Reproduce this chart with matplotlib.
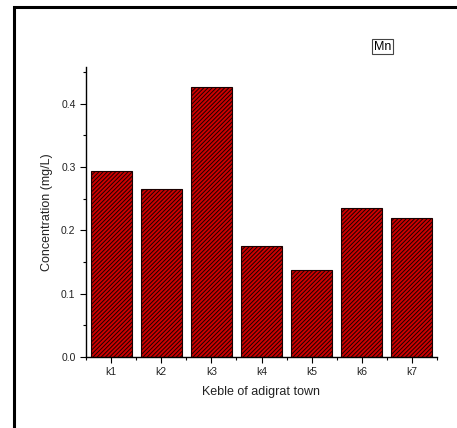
import matplotlib.pyplot as plt
from matplotlib.patches import Rectangle
from matplotlib.ticker import MultipleLocator, FixedLocator

plt.rcParams['font.family'] = ['Liberation Sans', 'DejaVu Sans']
plt.rcParams['hatch.linewidth'] = 0.7

kebeles = ['k1', 'k2', 'k3', 'k4', 'k5', 'k6', 'k7']
mn_conc = [0.294, 0.265, 0.426, 0.176, 0.138, 0.235, 0.220]

fig = plt.figure(figsize=(4.57, 4.28), dpi=100)
W, H = 457, 428
ax = fig.add_axes([86 / W, 1 - 357 / H, (437 - 86) / W, (357 - 67) / H])

pos = list(range(1, len(kebeles) + 1))
ax.bar(pos, mn_conc, width=0.82, color='#cc0000', edgecolor='#1a0000',
       linewidth=0.8, hatch='////////')

ax.set_xlim(0.5, 7.5)
ax.set_ylim(0, 0.458)
ax.set_xticks(pos)
ax.set_xticklabels(kebeles)
ax.xaxis.set_minor_locator(FixedLocator([p + 0.5 for p in range(0, 8)]))
ax.yaxis.set_major_locator(MultipleLocator(0.1))
ax.yaxis.set_minor_locator(MultipleLocator(0.05))
ax.yaxis.set_major_formatter(plt.FuncFormatter(lambda v, p: f'{v:.1f}'))

for s in ['top', 'right']:
    ax.spines[s].set_visible(False)
for s in ['left', 'bottom']:
    ax.spines[s].set_linewidth(1.0)

ax.tick_params(which='major', direction='out', length=4, width=0.8,
               labelsize=7.5, colors='black', labelcolor='#222222')
ax.tick_params(which='minor', direction='out', length=2.5, width=0.8)

ax.set_xlabel('Keble of adigrat town', fontsize=9, color='#222222', labelpad=6)
ax.set_ylabel('Concentration (mg/L)', fontsize=9, color='#222222', labelpad=6)

fig.text(382.5 / W, 1 - 46.5 / H, 'Mn', fontsize=9, ha='center', va='center',
         bbox=dict(boxstyle='square,pad=0.15', facecolor='white',
                   edgecolor='#444444', linewidth=0.8))

# outer frame (right and bottom edges fall outside the image)
fig.patches.append(Rectangle((14 / W, -0.1), 1.2, 1 - 7 / H + 0.1,
                             transform=fig.transFigure, fill=False,
                             edgecolor='black', linewidth=2.2))

fig.savefig('out.png', dpi=100)
